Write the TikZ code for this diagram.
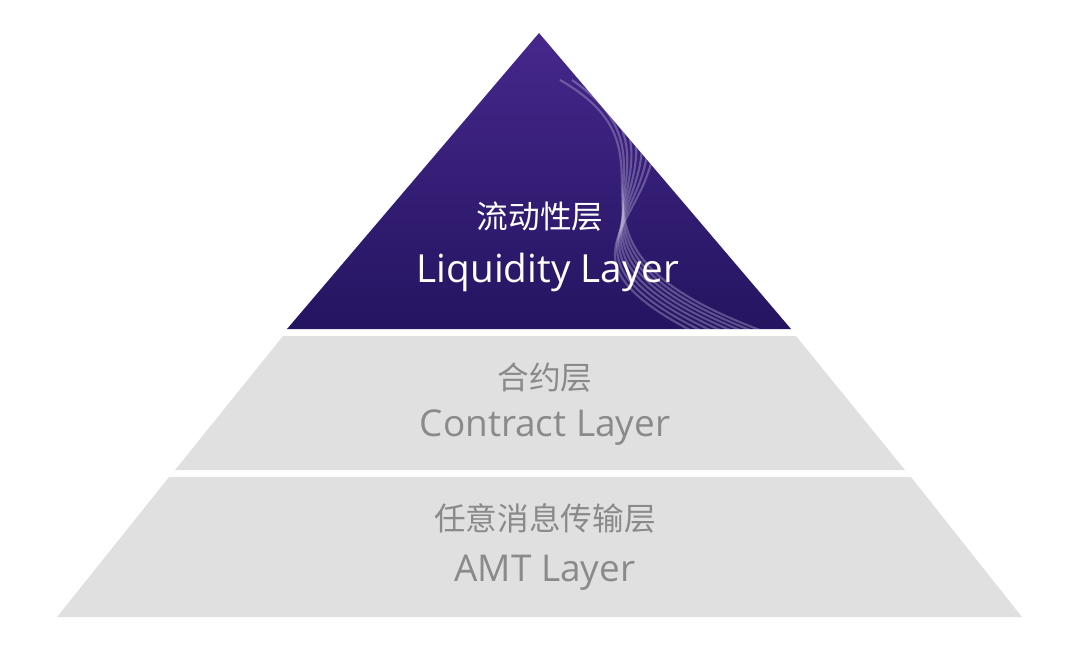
\documentclass[tikz,border=0pt]{standalone}
\usepackage{fontspec}
\setmainfont{Open Sans}
\newfontfamily\cjk{Noto Sans CJK SC}
\definecolor{layergray}{RGB}{224,224,224}
\definecolor{textgray}{RGB}{138,138,138}
\definecolor{deeppurple}{RGB}{36,20,96}
\definecolor{midpurple}{RGB}{70,40,140}
\tikzset{
  layerbox/.style={fill=layergray, draw=none},
  cjklabel/.style={font=\cjk\fontsize{9}{11}\selectfont, text=textgray},
  enlabel/.style={font=\fontsize{10.5}{12}\selectfont, text=textgray}
}
\begin{document}
\begin{tikzpicture}[x=0.01cm, y=-0.01cm]
\useasboundingbox (0,0) rectangle (1080,650);
% top layer
\begin{scope}
\clip (539,33) -- (791,329) -- (287,329) -- cycle;
\shade[top color=midpurple, bottom color=deeppurple] (280,30) rectangle (800,332);
\foreach \k in {0,...,7}
  \draw[white!70!midpurple, opacity=0.35, line width=0.6pt]
    (560+12*\k,80) .. controls (700,160+8*\k) and (520,240) .. (760-10*\k,330);
\end{scope}
% lower layers
\fill[layerbox] (283,336) -- (796,336) -- (905,470) -- (175,470) -- cycle;
\fill[layerbox] (169,477) -- (911,477) -- (1022,617) -- (57,617) -- cycle;
% labels
\node[cjklabel, text=white] (liqcn) at (540,217) {流动性层};
\node[enlabel, text=white, font=\fontsize{11}{13}\selectfont] (liqen) at (548,272) {Liquidity Layer};
\node[cjklabel] (concn) at (545,378) {合约层};
\node[enlabel] (conen) at (545,428) {Contract Layer};
\node[cjklabel] (amtcn) at (545,518) {任意消息传输层};
\node[enlabel] (amten) at (545,573) {AMT Layer};
\end{tikzpicture}
\end{document}
